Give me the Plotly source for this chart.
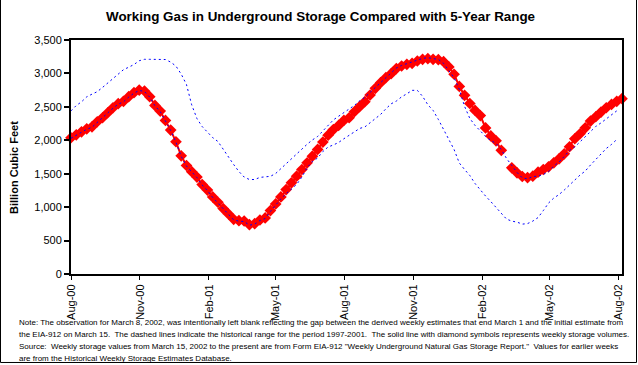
import pandas as pd
import plotly.graph_objects as go

# ---------------- data ----------------
start_date = "2000-08-04"
n_weeks = 106
dates = pd.date_range(start_date, periods=n_weeks, freq="7D")

storage = [2038, 2082, 2127, 2172, 2202, 2277, 2337, 2412, 2487, 2547,
           2582, 2652, 2712, 2751, 2737, 2652, 2522, 2437, 2297, 2152,
           1978, 1768, 1623, 1530, 1450, 1338, 1255, 1153, 1073, 978,
           898, 818, 798, 793, 738, 753, 808, 838, 948, 1048,
           1153, 1263, 1363, 1463, 1563, 1663, 1763, 1863, 1973, 2077,
           2160, 2222, 2297, 2337, 2427, 2502, 2577, 2677, 2777, 2862,
           2937, 2997, 3072, 3111, 3136, 3151, 3186, 3211, 3221, 3211,
           3205, 3176, 3098, 2988, 2805, 2672, 2550, 2447, 2370, 2185,
           2065, 1992, 1850, None, 1588, 1513, 1458, 1443, 1463, 1523,
           1563, 1603, 1663, 1723, 1798, 1903, 2023, 2098, 2187, 2287,
           2352, 2422, 2487, 2537, 2582, 2622]

range_max = [2440, 2520, 2575, 2650, 2690, 2727, 2790, 2857, 2930, 2987,
             3056, 3093, 3133, 3190, 3211, 3211, 3211, 3211, 3208, 3169,
             3110, 2990, 2835, 2530, 2325, 2205, 2127, 2040, 1982, 1862,
             1757, 1637, 1533, 1450, 1413, 1413, 1445, 1453, 1461, 1503,
             1578, 1653, 1716, 1803, 1870, 1941, 2005, 2057, 2140, 2222,
             2305, 2360, 2417, 2462, 2522, 2590, 2642, 2717, 2792, 2870,
             2945, 3005, 3080, 3120, 3145, 3165, 3195, 3225, 3235, 3225,
             3210, 3150, 3050, 2935, 2760, 2507, 2327, 2222, 2140, 2057,
             1997, 1952, 1862, 1728, 1623, 1518, 1438, 1423, 1458, 1463,
             1488, 1533, 1613, 1675, 1758, 1848, 1900, 1978, 2047, 2132,
             2207, 2260, 2320, 2387, 2440, None]

range_min = [2030, 2075, 2120, 2165, 2195, 2270, 2330, 2405, 2480, 2540,
             2575, 2645, 2705, 2745, 2730, 2645, 2515, 2430, 2290, 2145,
             1970, 1760, 1615, 1522, 1442, 1330, 1247, 1145, 1065, 970,
             890, 810, 790, 785, 730, 745, 800, 830, 935, 1030,
             1125, 1200, 1275, 1340, 1450, 1590, 1683, 1735, 1832, 1900,
             1930, 1968, 2023, 2072, 2132, 2177, 2200, 2260, 2327, 2387,
             2470, 2545, 2587, 2650, 2695, 2747, 2747, 2657, 2532, 2447,
             2312, 2170, 2012, 1862, 1660, 1563, 1473, 1353, 1256, 1166,
             1083, 993, 904, 821, 791, 776, 746, 754, 791, 844,
             948, 1061, 1136, 1188, 1256, 1338, 1405, 1480, 1540, 1630,
             1713, 1810, 1877, 1938, 2012, None]

tick_dates = ["2000-08-04", "2000-11-04", "2001-02-04", "2001-05-04",
              "2001-08-04", "2001-11-04", "2002-02-04", "2002-05-04",
              "2002-08-04"]
tick_labels = ["Aug-00", "Nov-00", "Feb-01", "May-01", "Aug-01",
               "Nov-01", "Feb-02", "May-02", "Aug-02"]
y_ticks = [0, 500, 1000, 1500, 2000, 2500, 3000, 3500]

title_text = "Working Gas in Underground Storage Compared with 5-Year Range"
y_title = "Billion Cubic Feet"
note_lines = [
    "Note: The observation for March 8, 2002, was intentionally left blank reflecting the gap between the derived weekly estimates that end March 1 and the initial estimate from",
    "the EIA-912 on March 15.  The dashed lines indicate the historical range for the period 1997-2001.  The solid line with diamond symbols represents weekly storage volumes.",
    "Source:  Weekly storage values from March 15, 2002 to the present are from Form EIA-912 \"Weekly Underground Natural Gas Storage Report.\"  Values for earlier weeks",
    "are from the Historical Weekly Storage Estimates Database.",
]

# ---------------- figure ----------------
W, H = 638, 365
L, R, T, B = 71, 16, 40, 91
PW, PH = W - L - R, H - T - B


def pxx(x):
    return (x - L) / PW


def pxy(y):
    return (H - B - y) / PH


FONT = "Arial, Liberation Sans, sans-serif"

fig = go.Figure()
fig.add_trace(go.Scatter(
    x=dates, y=storage, mode="lines+markers",
    line=dict(color="#FF0000", width=2),
    marker=dict(symbol="diamond", size=9, color="#FF0000"),
    connectgaps=False, cliponaxis=False, showlegend=False, hoverinfo="skip"))
fig.add_trace(go.Scatter(
    x=dates, y=range_max, mode="lines",
    line=dict(color="#0000FF", width=1, dash="2px,3px"),
    connectgaps=False, showlegend=False, hoverinfo="skip"))
fig.add_trace(go.Scatter(
    x=dates, y=range_min, mode="lines",
    line=dict(color="#0000FF", width=1, dash="2px,3px"),
    connectgaps=False, showlegend=False, hoverinfo="skip"))

fig.update_xaxes(
    type="date", range=[dates[0], dates[-1]], automargin=False,
    tickvals=tick_dates, ticktext=tick_labels, tickangle=-90,
    tickfont=dict(family=FONT, size=11, color="black"),
    showline=True, linecolor="black", linewidth=2, mirror=True,
    ticks="outside", ticklen=4, tickwidth=1, tickcolor="black",
    showgrid=False, zeroline=False)
fig.update_yaxes(
    range=[0, 3500], tickvals=y_ticks, tickformat=",", automargin=False,
    tickfont=dict(family=FONT, size=11, color="black"),
    showline=True, linecolor="black", linewidth=2, mirror=True,
    ticks="outside", ticklen=5, tickwidth=2, tickcolor="black",
    showgrid=False, zeroline=False)

annotations = [
    dict(text="<b>%s</b>" % title_text, x=pxx(320), y=pxy(17),
         xref="paper", yref="paper", showarrow=False,
         xanchor="center", yanchor="middle",
         font=dict(family=FONT, size=13.4, color="black")),
    dict(text="<b>%s</b>" % y_title, x=pxx(14), y=pxy(168),
         xref="paper", yref="paper", showarrow=False, textangle=-90,
         xanchor="center", yanchor="middle",
         font=dict(family=FONT, size=11, color="black")),
]
for i, line in enumerate(note_lines):
    annotations.append(dict(
        text=line, x=pxx(17), y=pxy(322 + 12 * i),
        xref="paper", yref="paper", showarrow=False,
        xanchor="left", yanchor="middle",
        font=dict(family=FONT, size=8, color="black")))

shapes = [
    dict(type="path", xref="paper", yref="paper",
         path="M %f %f L %f %f L %f %f L %f %f" % (
             pxx(0.5), pxy(0), pxx(0.5), pxy(362.5),
             pxx(636.5), pxy(362.5), pxx(636.5), pxy(0)),
         line=dict(color="black", width=1)),
]

fig.update_layout(
    width=W, height=H, margin=dict(l=L, r=R, t=T, b=B),
    paper_bgcolor="white", plot_bgcolor="white",
    annotations=annotations, shapes=shapes, showlegend=False)

fig.write_html("out.html",
               config={"displayModeBar": False, "staticPlot": True},
               post_script="document.body.style.margin='0';"
                           "document.body.style.overflow='hidden';")
